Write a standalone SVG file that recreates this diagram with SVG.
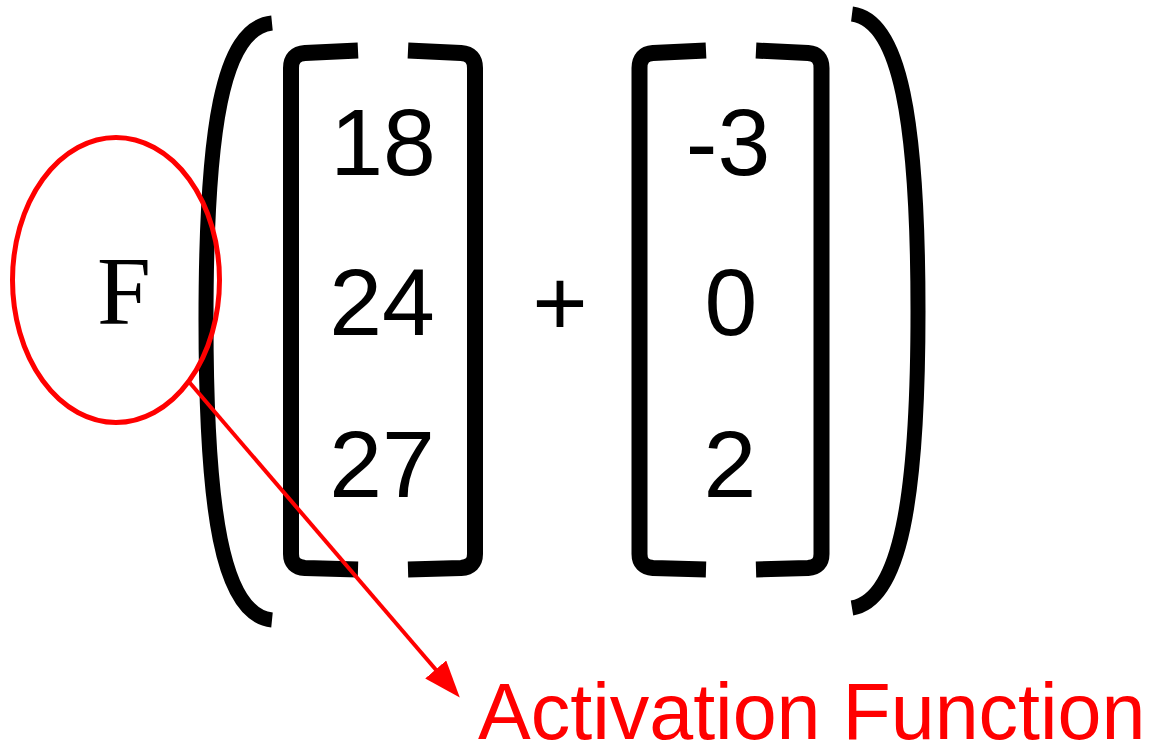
<svg xmlns="http://www.w3.org/2000/svg" width="1154" height="744" viewBox="0 0 1154 744">
<style>
.br{fill:none;stroke:#000;stroke-width:16;stroke-linecap:butt;stroke-linejoin:round}
.par{fill:none;stroke:#000;stroke-width:15;stroke-linecap:butt}
.num{font-family:"Liberation Sans",Arial,sans-serif;font-size:95px;fill:#000;text-anchor:middle}
.red{stroke:#ff0000;fill:none}
</style>
<defs>
<marker id="arr" markerUnits="userSpaceOnUse" markerWidth="40" markerHeight="30" refX="2" refY="13.8" orient="auto">
<path d="M0,0 L37,13.8 L0,27.6 z" fill="#ff0000"/>
</marker>
</defs>
<rect width="1154" height="744" fill="#fff"/>
<g id="parens">
<path class="par" d="M272 23 C222 28 206 130 206 320 C206 510 222 615 272 620"/>
<path class="par" d="M852 14 C900 20 918 120 918 311 C918 500 900 600 852 608"/>
</g>
<g id="matrix1">
<path class="br" d="M358 50.5 L305 53 Q291 54 291 68 L291 554 Q291 567 305 568 L358 569.5"/>
<path class="br" d="M408 50.5 L461 53 Q475 54 475 68 L475 554 Q475 567 461 568 L408 569.5"/>
<text class="num" x="383" y="175">18</text>
<text class="num" x="382" y="335">24</text>
<text class="num" x="382" y="497">27</text>
</g>
<g id="plus">
<text class="num" x="560" y="335">+</text>
</g>
<g id="matrix2">
<path class="br" d="M706 50.5 L653 53 Q639.5 54 639.5 68 L639.5 554 Q639.5 567 653 568 L706 569.5"/>
<path class="br" d="M756 50.5 L808 53 Q821.5 54 821.5 68 L821.5 554 Q821.5 567 808 568 L756 569.5"/>
<text class="num" x="728" y="175">-3</text>
<text class="num" x="731" y="335">0</text>
<text class="num" x="730" y="497">2</text>
</g>
<g id="F">
<text x="124" y="324" font-family="Liberation Serif,'Times New Roman',serif" font-size="97" text-anchor="middle" fill="#000">F</text>
</g>
<g id="highlight">
<ellipse class="red" cx="116" cy="280" rx="103.5" ry="142.5" stroke-width="5"/>
</g>
<g id="connectors">
<line class="red" x1="190" y1="383" x2="437" y2="671" stroke-width="4" marker-end="url(#arr)"/>
</g>
<g id="label">
<text x="478" y="739" font-family="Liberation Sans,Arial,sans-serif" font-size="79" fill="#ff0000">Activation Function</text>
</g>
</svg>
